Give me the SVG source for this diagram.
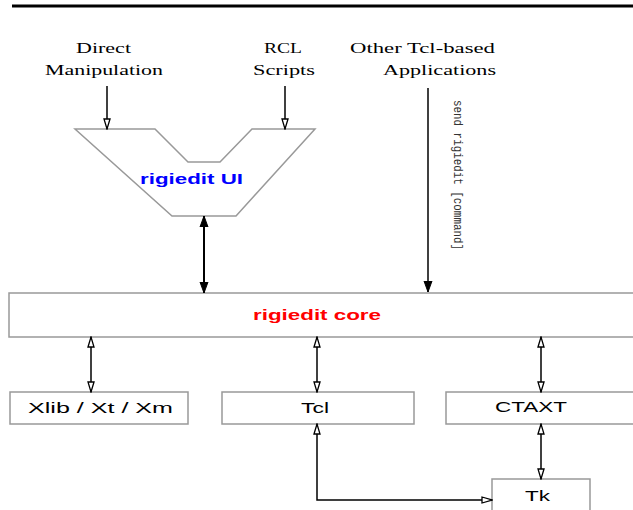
<svg xmlns="http://www.w3.org/2000/svg" width="633" height="510" viewBox="0 0 633 510">
<style>
.serif{font-family:"Liberation Serif","Times New Roman",serif;font-size:15px;fill:#000}
.sans{font-family:"Liberation Sans",Arial,sans-serif;font-size:15px;fill:#000}
.bold{font-family:"Liberation Sans",Arial,sans-serif;font-size:15px;font-weight:bold}
.mono{font-family:"Liberation Mono","Courier New",monospace;font-size:13px;fill:#333}
.box{fill:#fff;stroke:#999;stroke-width:1.5}
.ln{fill:none;stroke:#000;stroke-width:1.5}
.lnb{fill:none;stroke:#000;stroke-width:2}
</style>
<defs>
<marker id="open" markerUnits="userSpaceOnUse" markerWidth="12" markerHeight="10" viewBox="0 0 12 10" refX="11" refY="5" orient="auto-start-reverse">
<path d="M1,2 L11,5 L1,8 Z" fill="#fff" stroke="#000" stroke-width="1.3"/>
</marker>
<marker id="fill" markerUnits="userSpaceOnUse" markerWidth="12" markerHeight="10" viewBox="0 0 12 10" refX="11" refY="5" orient="auto-start-reverse">
<path d="M0,1 L11,5 L0,9 Z" fill="#000" stroke="#000" stroke-width="1"/>
</marker>
</defs>
<rect width="633" height="510" fill="#fff"/>
<line x1="12" y1="6" x2="633" y2="6" stroke="#000" stroke-width="3"/>

<g id="direct">
<text class="serif" x="76" y="53" textLength="55" lengthAdjust="spacingAndGlyphs">Direct</text>
<text class="serif" x="45" y="75" textLength="118" lengthAdjust="spacingAndGlyphs">Manipulation</text>
</g>
<g id="rcl">
<text class="serif" x="264" y="53" textLength="38" lengthAdjust="spacingAndGlyphs">RCL</text>
<text class="serif" x="253" y="75" textLength="62" lengthAdjust="spacingAndGlyphs">Scripts</text>
</g>
<g id="other">
<text class="serif" x="350" y="53" textLength="145" lengthAdjust="spacingAndGlyphs">Other Tcl-based</text>
<text class="serif" x="383" y="75" textLength="113" lengthAdjust="spacingAndGlyphs">Applications</text>
</g>

<g id="ui">
<polygon class="box" points="75,129 155,129 188,162 220,162 252,129 315,129 236,216 172,216"/>
<text class="bold" x="140" y="184" fill="#0000ff" textLength="103" lengthAdjust="spacingAndGlyphs">rigiedit UI</text>
</g>

<g id="core">
<rect class="box" x="9" y="293" width="640" height="44"/>
<text class="bold" x="253" y="320" fill="#ff0000" textLength="128" lengthAdjust="spacingAndGlyphs">rigiedit core</text>
</g>

<g id="xlib">
<rect class="box" x="10" y="392" width="178" height="32"/>
<text class="sans" x="28" y="413" textLength="145" lengthAdjust="spacingAndGlyphs">Xlib / Xt / Xm</text>
</g>
<g id="tcl">
<rect class="box" x="222" y="392" width="192" height="32"/>
<text class="sans" x="301" y="413" textLength="28" lengthAdjust="spacingAndGlyphs">Tcl</text>
</g>
<g id="ctaxt">
<rect class="box" x="446" y="392" width="200" height="32"/>
<text class="sans" x="495" y="412" textLength="72" lengthAdjust="spacingAndGlyphs">CTAXT</text>
</g>
<g id="tk">
<rect class="box" x="492" y="479" width="98" height="40"/>
<text class="sans" x="525" y="501" textLength="25" lengthAdjust="spacingAndGlyphs">Tk</text>
</g>

<g id="connectors">
<line class="ln" x1="107" y1="86" x2="107" y2="129" marker-end="url(#open)"/>
<line class="ln" x1="285" y1="86" x2="285" y2="129" marker-end="url(#open)"/>
<line class="ln" x1="428" y1="88" x2="428" y2="292" marker-end="url(#fill)"/>
<text class="mono" transform="translate(454,100) rotate(90)" textLength="150" lengthAdjust="spacingAndGlyphs">send rigiedit [command]</text>
<line class="lnb" x1="204" y1="216" x2="204" y2="293" marker-start="url(#fill)" marker-end="url(#fill)"/>
<line class="ln" x1="91" y1="337" x2="91" y2="392" marker-start="url(#open)" marker-end="url(#open)"/>
<line class="ln" x1="317" y1="337" x2="317" y2="392" marker-start="url(#open)" marker-end="url(#open)"/>
<line class="ln" x1="541" y1="337" x2="541" y2="392" marker-start="url(#open)" marker-end="url(#open)"/>
<line class="ln" x1="541" y1="424" x2="541" y2="479" marker-start="url(#open)" marker-end="url(#open)"/>
<polyline class="ln" points="317,424 317,500 492,500" marker-start="url(#open)" marker-end="url(#open)"/>
</g>
</svg>
